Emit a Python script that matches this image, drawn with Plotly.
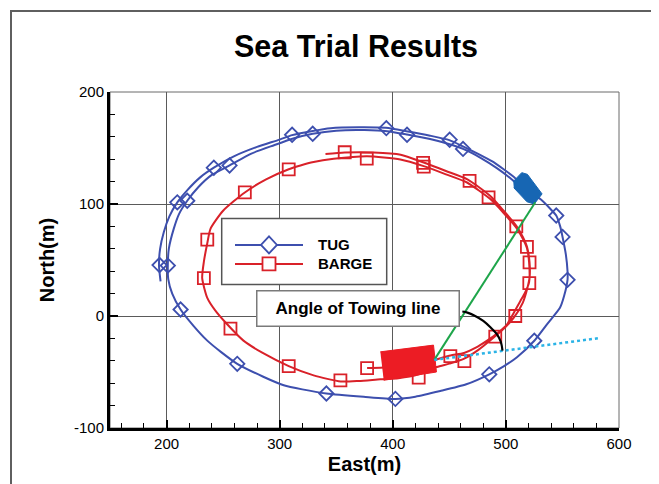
import plotly.graph_objects as go

# ---------------- data ----------------
TITLE = "Sea Trial Results"
X_LABEL = "East(m)"
Y_LABEL = "North(m)"
ANGLE_LABEL = "Angle of Towing line"
SERIES_NAMES = ["TUG", "BARGE"]
X_TICKS = [200, 300, 400, 500, 600]
Y_TICKS = [-100, 0, 100, 200]

TUG_E = [194.7, 193.3, 194.3, 197.6, 202.5, 209.5, 218, 230, 241.8, 259.5, 280, 300, 311, 328, 345,
         370, 394, 412, 433, 450, 462, 475, 488, 498, 506, 515, 524, 531, 539, 544.5, 548, 550.1,
         553, 554.5, 554.5, 551.5, 547.8, 536.3, 525.1, 509.8, 498, 485.3, 465, 442, 420, 402.3,
         374.3, 341.3, 320, 303.6, 285, 262.5, 248, 236, 224, 212.4, 205, 201.5, 201.1, 202, 206.4,
         211, 218.3, 228, 240, 255.7, 275, 295, 312, 329.2, 350, 375, 395, 412.6, 433, 448, 462.1,
         478, 492, 504, 512, 518]
TUG_N = [31, 45, 60, 75, 89, 101.5, 112, 124, 132.4, 142.6, 151, 157.5, 161.5, 165, 167.7,
         168.5, 168, 165, 161, 157, 151.5, 145, 138, 131, 125, 117, 109, 104, 96, 89.7, 80, 70.6,
         55, 40, 32.3, 18, 7.3, -7.4, -22.1, -36.8, -45, -52.1, -61, -67, -72, -74, -72.1, -69.2,
         -65.5, -61.8, -54, -42.7, -32, -22, -9, 5.8, 20, 33, 45, 60, 78, 91, 102.9, 115, 126,
         134.4, 145, 152.5, 158.5, 162.7, 165.5, 166, 165, 162, 158, 154, 149.2, 141, 132, 123,
         116, 111]

TUG_MARK_E = [193.8, 201.1, 209.5, 218.3, 241.8, 255.7, 311.0, 329.2, 394.3, 412.6, 450.3, 462.1,
              544.5, 550.1, 554.5, 525.1, 485.3, 402.3, 341.3, 262.5, 212.4]
TUG_MARK_N = [45.5, 45.0, 101.5, 102.9, 132.4, 134.4, 161.8, 162.7, 167.7, 161.8, 157.4, 149.2,
              89.7, 70.6, 32.3, -22.1, -52.1, -74.0, -69.2, -42.7, 5.8]

BARGE_E = [340.5, 357.5, 383, 407, 427.3, 447, 466, 486, 498, 509.2, 515, 518.6, 520.9, 521, 519,
           515, 507, 499, 489.2, 476, 462.7, 450, 439, 423, 405, 389, 370, 354, 330, 308, 285,
           268, 253.6, 243, 236, 231.5, 233, 236, 238.9, 250, 269.2, 288, 308, 318.4, 330, 347.8,
           377.3, 406.7, 427.3, 447, 465.6, 486.2, 498, 509, 515, 518.5, 520.5, 520.5, 517, 512.7,
           507, 501, 493, 483.4, 473, 463, 451, 437, 420, 400, 377.3]
BARGE_N = [144.7, 146, 146, 144, 137, 129.5, 122, 107.3, 94, 80.5, 70.5, 62, 48, 35, 25,
           12, -1.5, -10.5, -19.2, -30, -38.3, -42.5, -45.6, -52, -55.5, -56.5, -58, -58.5, -53,
           -44.7, -33, -22, -7.4, 5, 16.2, 33.8, 48.5, 65, 78, 94, 110.3, 122, 131, 134.4, 137.5,
           140.3, 142.6, 139.7, 133.8, 126.5, 119.2, 104.4, 92, 79, 69, 61, 48, 30, 21, 13.2,
           3, -7.4, -15, -22, -28.5, -33, -35.3, -39, -43, -45.5, -46.5]

BARGE_MARK_E = [357.5, 377.0, 426.8, 427.4, 467.9, 484.7, 509.2, 518.6, 520.9, 520.7, 508.3, 490.6,
                463.3, 450.9, 422.9, 377.3, 353.7, 308.0, 256.5, 233.0, 236.0, 269.2, 308.0]
BARGE_MARK_N = [146.2, 140.5, 136.8, 133.3, 120.6, 105.9, 80.0, 61.8, 47.9, 29.4, 0.0, -18.5,
                -40.3, -35.9, -55.1, -46.5, -57.4, -44.7, -11.2, 33.8, 68.2, 110.3, 130.9]

TUG_HULL_E = [506.5, 514, 519, 532, 525, 518.6, 507]
TUG_HULL_N = [120, 128, 126.5, 109, 100, 102, 114.5]
BARGE_HULL_E = [389, 436, 438.6, 392]
BARGE_HULL_N = [-32, -26, -50, -57.4]

TOWLINE_E = [436.7, 526]
TOWLINE_N = [-39.2, 101.5]
HEADING_E = [436.7, 581.9]
HEADING_N = [-39.2, -19.8]
ARC_E = [461.5, 466, 472, 480, 486.5, 492, 495.5, 497]
ARC_N = [4, 3, 0.5, -4.4, -10.3, -16.2, -23, -31]

# ---------------- styles ----------------
FONT = "Liberation Sans, Arial, sans-serif"
BLUE = "#3d4fae"
RED = "#d92129"
TUG_FILL = "#1766b3"
BARGE_FILL = "#ec1c24"
GREEN = "#1ea54a"
CYAN = "#2bb3e6"

OFF = 8                      # browser body margin
W, H = 659 - OFF, 484 - OFF
ML, MR, MT, MB = 110 - OFF, 40, 92 - OFF, 52
PW, PH = W - ML - MR, H - MT - MB


def fx(px):
    """page pixel x -> paper fraction"""
    return (px - OFF - ML) / PW


def fy(py):
    """page pixel y -> paper fraction"""
    return (H - MB - (py - OFF)) / PH


fig = go.Figure()

fig.add_trace(go.Scatter(x=TUG_E, y=TUG_N, mode="lines", name=SERIES_NAMES[0],
                         line=dict(color=BLUE, width=2, shape="spline", smoothing=0.6),
                         showlegend=False, hoverinfo="skip"))
fig.add_trace(go.Scatter(x=BARGE_E, y=BARGE_N, mode="lines", name=SERIES_NAMES[1],
                         line=dict(color=RED, width=2, shape="spline", smoothing=0.6),
                         showlegend=False, hoverinfo="skip"))
fig.add_trace(go.Scatter(x=TUG_MARK_E, y=TUG_MARK_N, mode="markers", name=SERIES_NAMES[0],
                         marker=dict(symbol="diamond-open", size=11, color=BLUE,
                                     line=dict(width=1.8, color=BLUE)),
                         showlegend=False))
fig.add_trace(go.Scatter(x=BARGE_MARK_E, y=BARGE_MARK_N, mode="markers", name=SERIES_NAMES[1],
                         marker=dict(symbol="square-open", size=12, color=RED,
                                     line=dict(width=1.8, color=RED)),
                         showlegend=False))
fig.add_trace(go.Scatter(x=BARGE_HULL_E, y=BARGE_HULL_N, mode="lines", fill="toself",
                         fillcolor=BARGE_FILL, line=dict(color=BARGE_FILL, width=1),
                         showlegend=False, hoverinfo="skip"))
fig.add_trace(go.Scatter(x=TUG_HULL_E, y=TUG_HULL_N, mode="lines", fill="toself",
                         fillcolor=TUG_FILL, line=dict(color=TUG_FILL, width=1),
                         showlegend=False, hoverinfo="skip"))
fig.add_trace(go.Scatter(x=TOWLINE_E, y=TOWLINE_N, mode="lines",
                         line=dict(color=GREEN, width=2), showlegend=False, hoverinfo="skip"))
fig.add_trace(go.Scatter(x=HEADING_E, y=HEADING_N, mode="lines",
                         line=dict(color=CYAN, width=2.5, dash="dot"), showlegend=False,
                         hoverinfo="skip"))
fig.add_trace(go.Scatter(x=ARC_E, y=ARC_N, mode="lines",
                         line=dict(color="black", width=2.2, shape="spline"), showlegend=False,
                         hoverinfo="skip"))

axis_common = dict(
    ticks="inside", ticklen=8, tickwidth=2, tickcolor="black",
    showline=True, linewidth=3, linecolor="black", mirror=False,
    showgrid=True, gridcolor="#5a5a5a", gridwidth=1, zeroline=False,
    tickfont=dict(family=FONT, size=15, color="black"),
    minor=dict(dtick=20, tick0=0, ticks="inside", ticklen=5, tickwidth=1,
               tickcolor="black", showgrid=False),
)

fig.update_layout(
    width=W, height=H,
    margin=dict(l=ML, r=MR, t=MT, b=MB),
    paper_bgcolor="white", plot_bgcolor="white",
    showlegend=False,
    title=dict(text=TITLE, x=(356 - OFF) / W, xanchor="center", y=1 - (46 - OFF) / H,
               yanchor="middle",
               font=dict(family=FONT, size=30.5, color="black", weight="bold")),
    xaxis=dict(range=[150, 600], tickvals=X_TICKS, ticktext=[str(v) for v in X_TICKS],
               **axis_common,
               title=dict(text=X_LABEL, standoff=6,
                          font=dict(family=FONT, size=20, color="black", weight="bold"))),
    yaxis=dict(range=[-100, 200], tickvals=Y_TICKS, ticktext=[str(v) for v in Y_TICKS],
               **axis_common,
               title=dict(text=Y_LABEL, standoff=14,
                          font=dict(family=FONT, size=20, color="black", weight="bold"))),
)

shapes = [
    # outer frame
    dict(type="rect", xref="paper", yref="paper", x0=fx(11), x1=fx(653), y0=fy(520), y1=fy(10),
         line=dict(color="#5f5f5f", width=2), layer="below"),
    # plot border (top/right thin)
    dict(type="rect", xref="paper", yref="paper", x0=0, x1=1, y0=0, y1=1,
         line=dict(color="#6a6a6a", width=1), layer="below"),
    # legend box
    dict(type="rect", xref="paper", yref="paper", x0=fx(221.7), x1=fx(386.7),
         y0=fy(286.7), y1=fy(220), fillcolor="white", line=dict(color="#555555", width=1.5),
         layer="above"),
]

legend_styles = [(BLUE, "M-8,0 L0,8.5 L8,0 L0,-8.5 Z"),
                 (RED, "M-6.5,-6.5 L6.5,-6.5 L6.5,6.5 L-6.5,6.5 Z")]
annotations = []
for i, name in enumerate(SERIES_NAMES):
    color, path = legend_styles[i]
    ypx = 246.7 + 19.3 * i
    shapes.append(dict(type="line", xref="paper", yref="paper", x0=fx(235), x1=fx(303),
                       y0=fy(ypx), y1=fy(ypx), line=dict(color=color, width=2), layer="above"))
    shapes.append(dict(type="path", xref="paper", yref="paper", xsizemode="pixel",
                       ysizemode="pixel", xanchor=fx(269), yanchor=fy(ypx), path=path,
                       fillcolor="white", line=dict(color=color, width=1.8), layer="above"))
    annotations.append(dict(xref="paper", yref="paper", x=fx(316), y=fy(ypx), xanchor="left",
                            yanchor="middle", text=name, showarrow=False,
                            font=dict(family=FONT, size=15, color="black", weight="bold")))

annotations.append(dict(xref="paper", yref="paper", x=fx(357.6), y=fy(311.3), xanchor="center",
                        yanchor="middle", text=ANGLE_LABEL, showarrow=False,
                        width=199, height=32, borderpad=1, bgcolor="white",
                        bordercolor="#7a7a7a", borderwidth=1.5,
                        font=dict(family=FONT, size=17, color="black", weight="bold")))

fig.update_layout(shapes=shapes, annotations=annotations)

fig.write_html("out.html")
